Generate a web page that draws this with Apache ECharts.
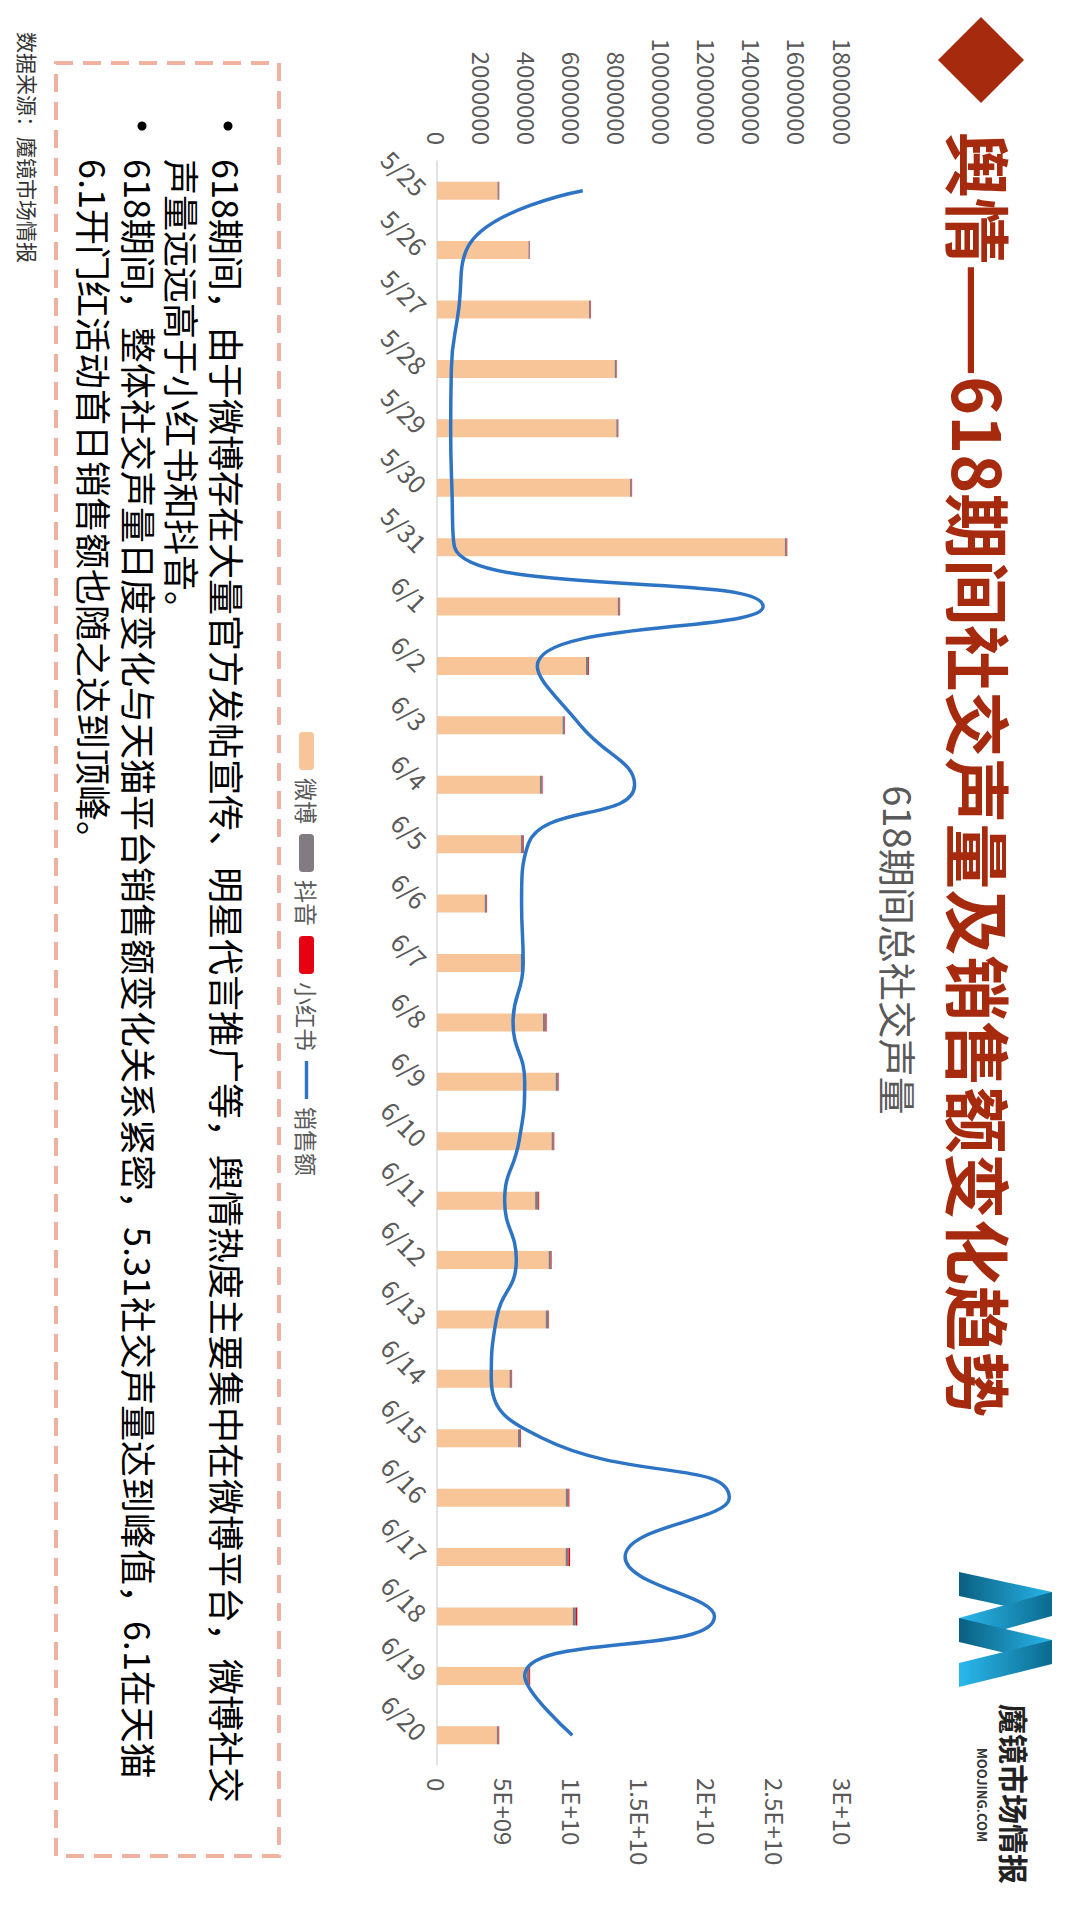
<!DOCTYPE html>
<html><head><meta charset="utf-8">
<script src="https://cdn.jsdelivr.net/npm/echarts@6/dist/echarts.min.js"></script>
<style>
html,body{margin:0;padding:0;background:#fff;width:1080px;height:1920px;overflow:hidden;}
#stage{position:absolute;left:0;top:0;width:1920px;height:1080px;transform-origin:0 0;transform:translate(1080px,0) rotate(90deg);background:#fff;}
</style></head><body><div id="stage"></div>
<script>
const categories = ['5/25','5/26','5/27','5/28','5/29','5/30','5/31','6/1','6/2','6/3','6/4','6/5','6/6','6/7','6/8','6/9','6/10','6/11','6/12','6/13','6/14','6/15','6/16','6/17','6/18','6/19','6/20'];
const weibo = [2680000,4055000,6740000,7880000,7950000,8560000,15425000,8015000,6605000,5565000,4560000,3720000,2115000,3715000,4700000,5260000,5080000,4350000,4950000,4820000,3215000,3590000,5710000,5700000,6020000,3990000,2655000];
const douyin = [60000,50000,70000,70000,70000,70000,80000,80000,100000,80000,90000,100000,80000,80000,120000,100000,90000,140000,100000,100000,90000,100000,120000,130000,140000,100000,80000];
const xiaohongshu = [20000,15000,20000,20000,20000,20000,25000,25000,35000,25000,30000,30000,25000,25000,40000,30000,30000,40000,30000,30000,25000,30000,40000,70000,60000,40000,25000];
const sales = [1.077e10,2.17e9,1.6e9,1.06e9,1.01e9,1.1e9,1.3e9,2.41e10,7.41e9,1.06e10,1.46e10,6.74e9,6.25e9,6.37e9,5.62e9,6.48e9,6.06e9,5.0e9,5.86e9,4.38e9,4.01e9,7.8e9,2.16e10,1.39e10,2.05e10,6.48e9,1.0e10];
const leftTicks = ['0','2000000','4000000','6000000','8000000','10000000','12000000','14000000','16000000','18000000'];
const rightTicks = ['0','5E+09','1E+10','1.5E+10','2E+10','2.5E+10','3E+10'];
const seriesNames = ['微博','抖音','小红书','销售额'];
const titleText = '舆情——618期间社交声量及销售额变化趋势';
const subTitleText = '618期间总社交声量';
const noteLines = [
  '618期间，由于微博存在大量官方发帖宣传、明星代言推广等，舆情热度主要集中在微博平台，微博社交',
  '声量远远高于小红书和抖音。',
  '618期间，整体社交声量日度变化与天猫平台销售额变化关系紧密，5.31社交声量达到峰值，6.1在天猫',
  '6.1开门红活动首日销售额也随之达到顶峰。'
];
const sourceText = '数据来源：魔镜市场情报';
const brandText = '魔镜市场情报';
const brandSub = 'MOOJING.COM';

const FONT = '"Noto Sans CJK SC","Noto Sans",sans-serif';
const chart = echarts.init(document.getElementById('stage'), null, {renderer:'svg', width:1920, height:1080});

function txt(text, x, y, font, fill, align, extra) {
  return Object.assign({type:'text', style:{text:text, x:x, y:y, font:font, fill:fill,
    align:align||'left', verticalAlign:'middle', textAlign:align||'left', textVerticalAlign:'middle'}}, extra||{});
}
function grad(c0, c1){ return new echarts.graphic.LinearGradient(0,1,0,0,[{offset:0,color:c0},{offset:1,color:c1}]); }

const graphics = [
  {type:'polygon', shape:{points:[[60,56],[103,99],[60,142],[17,99]]}, style:{fill:'#A62A0E'}},
  txt(titleText, 132, 99, 'bold 66px '+FONT, '#A62A0E'),
  txt(subTitleText, 950, 181, '38px '+FONT, '#595959', 'center'),
  {type:'polygon', shape:{points:[[1572,121],[1596,121],[1616,28],[1592,28]]}, style:{fill:grad('#0A5F80','#28B6EA')}},
  {type:'polygon', shape:{points:[[1592,28],[1616,28],[1642,121],[1618,121]]}, style:{fill:grad('#2AB8EC','#0C6A8E')}},
  {type:'polygon', shape:{points:[[1618,121],[1642,121],[1664,28],[1640,28]]}, style:{fill:grad('#0A5F80','#28B6EA')}},
  {type:'polygon', shape:{points:[[1640,28],[1664,28],[1687,121],[1663,121]]}, style:{fill:grad('#2AB8EC','#0C6A8E')}},
  txt(brandText, 1794, 65, 'bold 30px '+FONT, '#222222', 'center'),
  txt(brandSub, 1795, 98, 'bold 13px '+FONT, '#333333', 'center'),
  {type:'rect', shape:{x:63, y:801, width:1793, height:223}, style:{fill:null, stroke:'#F2B2A2', lineWidth:4, lineDash:[18,10]}},
  {type:'circle', shape:{cx:126, cy:852, r:4.5}, style:{fill:'#000'}},
  {type:'circle', shape:{cx:126, cy:938, r:4.5}, style:{fill:'#000'}},
  txt(noteLines[0], 159, 852, '36px '+FONT, '#000000'),
  txt(noteLines[1], 159, 897, '36px '+FONT, '#000000'),
  txt(noteLines[2], 159, 940, '36px '+FONT, '#000000'),
  txt(noteLines[3], 159, 985, '36px '+FONT, '#000000'),
  txt(sourceText, 32, 1052, '21px '+FONT, '#333333')
];

chart.setOption({
  animation:false,
  backgroundColor:'#ffffff',
  textStyle:{fontFamily:FONT},
  grid:{left:161, right:155, top:237, bottom:437},
  legend:{
    data:[
      {name:seriesNames[0]},
      {name:seriesNames[1]},
      {name:seriesNames[2]},
      {name:seriesNames[3], icon:'path://M0,0H40V3.6H0Z'}
    ],
    top:757, left:727, itemWidth:38, itemHeight:15, itemGap:10,
    textStyle:{fontSize:23, color:'#595959', fontFamily:FONT, padding:[0,0,0,3]}},
  xAxis:{type:'category', data:categories,
    axisLine:{lineStyle:{color:'#D9D9D9', width:1.5}}, axisTick:{show:false},
    axisLabel:{rotate:45, fontSize:25, color:'#595959', margin:14, interval:0, fontFamily:FONT}},
  yAxis:[
    {type:'value', min:0, max:18000000, interval:2000000, splitLine:{show:false}, axisLine:{show:false}, axisTick:{show:false},
      axisLabel:{fontSize:24, color:'#595959', margin:16, fontFamily:FONT, formatter:function(v){return leftTicks[Math.round(v/2000000)];}}},
    {type:'value', min:0, max:30000000000, interval:5000000000, splitLine:{show:false}, axisLine:{show:false}, axisTick:{show:false},
      axisLabel:{fontSize:24, color:'#595959', margin:13, fontFamily:FONT, formatter:function(v){return rightTicks[Math.round(v/5000000000)];}}}
  ],
  series:[
    {name:seriesNames[0], type:'bar', stack:'s', data:weibo, barWidth:18, itemStyle:{color:'#F7C597'}},
    {name:seriesNames[1], type:'bar', stack:'s', data:douyin, barWidth:18, itemStyle:{color:'#827C82'}},
    {name:seriesNames[2], type:'bar', stack:'s', data:xiaohongshu, barWidth:18, itemStyle:{color:'#E60012'}},
    {name:seriesNames[3], type:'line', yAxisIndex:1, data:sales, smooth:0.5, symbol:'none', showSymbol:false,
      lineStyle:{color:'#2E74C4', width:3.5}, itemStyle:{color:'#2E74C4'}}
  ],
  graphic:graphics
});
</script></body></html>
